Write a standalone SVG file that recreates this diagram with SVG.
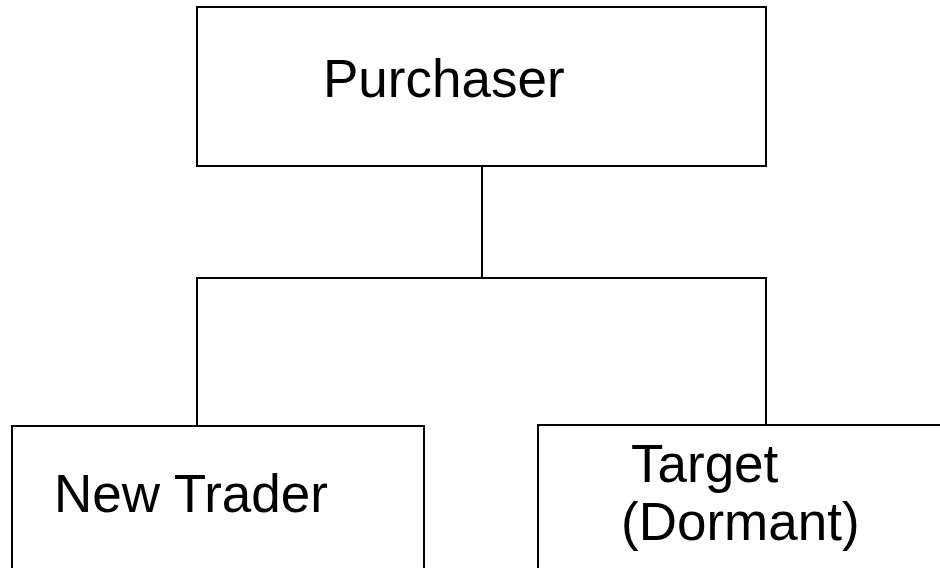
<svg xmlns="http://www.w3.org/2000/svg" width="940" height="568" viewBox="0 0 940 568">
  <style>
    .box { fill: #ffffff; stroke: #000000; stroke-width: 2; }
    .wire { fill: none; stroke: #000000; stroke-width: 2; }
    .label { font-family: "Liberation Sans", Arial, sans-serif; font-size: 53px; fill: #000000; }
  </style>
  <rect width="940" height="568" fill="#ffffff"/>
  <g id="connectors">
    <line class="wire" x1="482" y1="166" x2="482" y2="278"/>
    <polyline class="wire" points="197,425 197,278 766,278 766,425"/>
  </g>
  <g id="purchaser">
    <rect class="box" x="197" y="7" width="569" height="159"/>
    <text class="label" x="323" y="97">Purchaser</text>
  </g>
  <g id="new-trader">
    <rect class="box" x="12" y="426" width="412" height="160"/>
    <text class="label" x="54" y="512">New Trader</text>
  </g>
  <g id="target">
    <rect class="box" x="538" y="425" width="420" height="160"/>
    <text class="label" x="631" y="482">Target</text>
    <text class="label" x="621" y="540">(Dormant)</text>
  </g>
</svg>
